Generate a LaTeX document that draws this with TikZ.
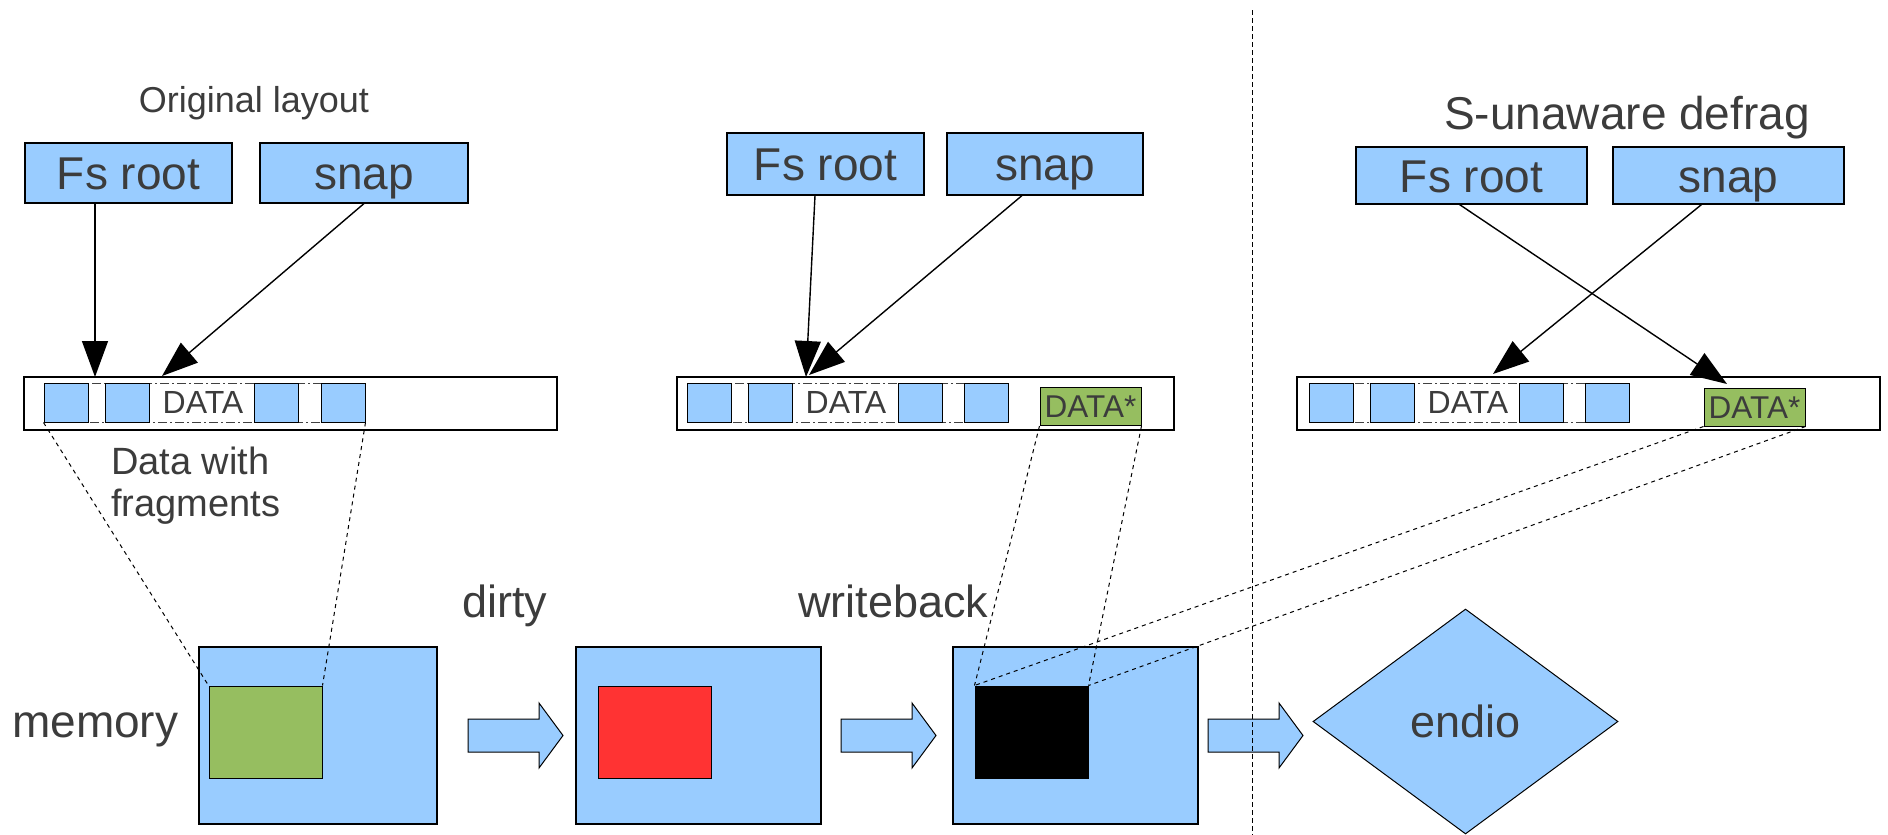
\documentclass[tikz,border=0pt]{standalone}
\usepackage{fontspec}
\setmainfont{Liberation Sans}
\usetikzlibrary{arrows.meta,shapes.geometric}
\definecolor{boxblue}{HTML}{99CCFF}
\definecolor{datagreen}{HTML}{96BE60}
\definecolor{memred}{HTML}{FF3333}
\definecolor{txt}{HTML}{3C3C3C}
\tikzset{
  lbl/.style={inner sep=0, text=txt},
  bigbox/.style={draw=black, line width=1.1pt, fill=boxblue, inner sep=0, text=txt, font=\fontsize{46}{55}\selectfont, text height=33pt, text depth=0pt},
  strip/.style={draw=black, line width=1.1pt, fill=white, inner sep=0},
  frag/.style={draw=black, line width=1pt, fill=boxblue, inner sep=0, minimum width=44pt, minimum height=39pt},
  newdata/.style={draw=black, line width=1pt, fill=datagreen, inner sep=0, text=txt, font=\fontsize{31.5}{38}\selectfont, minimum width=101pt, minimum height=38pt, text height=22.5pt, text depth=0pt},
  band/.style={draw=black!75, line width=1pt, dash pattern=on 9pt off 3pt on 2pt off 3pt},
  ptr/.style={line width=1.4pt, -{Triangle[length=36pt,width=26pt]}},
  mapline/.style={line width=1pt, dash pattern=on 4pt off 4pt},
  divider/.style={line width=1pt, dash pattern=on 5pt off 3pt},
  blockarrow/.style={draw=black, line width=1pt, fill=boxblue, line join=miter},
  memblock/.style={draw=black, line width=1.1pt, fill=boxblue, inner sep=0, minimum height=177pt},
  inner/.style={draw=black, line width=1pt, inner sep=0, minimum width=113pt, minimum height=92pt},
  datalbl/.style={inner sep=0, text=txt, font=\fontsize{32}{38}\selectfont, text height=23pt, text depth=0pt}
}
\begin{document}
\begin{tikzpicture}[x=1pt,y=-1pt]
\useasboundingbox (0,0) rectangle (1888,835);

% headings
\node[lbl, anchor=base, font=\fontsize{36}{43}\selectfont] (h1) at (254,112) {Original layout};
\node[lbl, anchor=base, font=\fontsize{46}{55}\selectfont] (h3) at (1627,129) {S-unaware defrag};

% pointer boxes
\node[bigbox, minimum width=207pt, minimum height=60pt] (fsA) at (128.5,173) {Fs root};
\node[bigbox, minimum width=208pt, minimum height=60pt] (snapA) at (364,173) {snap};
\node[bigbox, minimum width=197pt, minimum height=62pt] (fsB) at (825.5,164) {Fs root};
\node[bigbox, minimum width=196pt, minimum height=62pt] (snapB) at (1045,164) {snap};
\node[bigbox, minimum width=231pt, minimum height=57pt] (fsC) at (1471.5,175.5) {Fs root};
\node[bigbox, minimum width=231pt, minimum height=57pt] (snapC) at (1728.5,175.5) {snap};

% strips
\node[strip, minimum width=533pt, minimum height=53pt] (s1) at (290.5,403.5) {};
\node[strip, minimum width=497pt, minimum height=53pt] (s2) at (925.5,403.5) {};
\node[strip, minimum width=583pt, minimum height=53pt] (s3) at (1588.5,403.5) {};

% strip 1
\draw[band] (44,383) rectangle (365,422);
\node[frag] (a1) at (66,402.5) {};
\node[frag] (a2) at (127,402.5) {};
\node[frag] (a3) at (276.5,402.5) {};
\node[frag] (a4) at (343,402.5) {};
\node[datalbl] (d1) at (203,402) {DATA};

% strip 2
\draw[band] (687,383) rectangle (1008,422);
\node[frag] (b1) at (709.5,402.5) {};
\node[frag] (b2) at (770,402.5) {};
\node[frag] (b3) at (920,402.5) {};
\node[frag] (b4) at (986,402.5) {};
\node[datalbl] (d2) at (846,402) {DATA};
\node[newdata] (n2) at (1090.5,406.5) {DATA*};

% strip 3
\draw[band] (1309,383) rectangle (1629,422);
\node[frag] (c1) at (1331,402.5) {};
\node[frag] (c2) at (1392,402.5) {};
\node[frag] (c3) at (1541.5,402.5) {};
\node[frag] (c4) at (1607.5,402.5) {};
\node[datalbl] (d3) at (1468,402) {DATA};
\node[newdata] (n3) at (1754.5,407) {DATA*};

% pointers
\coordinate (t1) at (95,377);
\coordinate (t2) at (162,376);
\coordinate (t3) at (806,377);
\coordinate (t4) at (809,375);
\coordinate (t5) at (1727,384);
\coordinate (t6) at (1493,374);
\draw[ptr] (fsA.south -| t1) -- (t1);
\draw[ptr] (snapA.south) -- (t2);
\draw[ptr] ([xshift=-10.5pt]fsB.south) -- (t3);
\draw[ptr] ([xshift=-23pt]snapB.south) -- (t4);
\draw[ptr] ([xshift=-12pt]fsC.south) -- (t5);
\draw[ptr] ([xshift=-27pt]snapC.south) -- (t6);

% labels
\node[lbl, anchor=base west, font=\fontsize{38}{45}\selectfont] (dw1) at (111,474) {Data with};
\node[lbl, anchor=base west, font=\fontsize{38}{45}\selectfont] (dw2) at (111,516) {fragments};
\node[lbl, anchor=base west, font=\fontsize{46}{55}\selectfont] (lmem) at (12,737) {memory};
\node[lbl, anchor=base west, font=\fontsize{45}{54}\selectfont] (ldirty) at (462,617) {dirty};
\node[lbl, anchor=base west, font=\fontsize{45}{54}\selectfont] (lwb) at (798,617) {writeback};

% memory blocks
\node[memblock, minimum width=238pt] (m1) at (318,735.5) {};
\node[memblock, minimum width=245pt] (m2) at (698.5,735.5) {};
\node[memblock, minimum width=245pt] (m3) at (1075.5,735.5) {};
\node[inner, fill=datagreen] (g1) at (265.5,732) {};
\node[inner, fill=memred] (r2) at (654.5,732) {};
\node[inner, fill=black] (k3) at (1031.5,732) {};

% block arrows
\foreach \dx in {0,373,740}{
  \draw[blockarrow, xshift=\dx pt] (468,719) -- (539,719) -- (539,703) -- (563,735.5) -- (539,768) -- (539,752) -- (468,752) -- cycle;
}

% endio
\node[diamond, draw=black, line width=1pt, fill=boxblue, inner sep=0, minimum width=305pt, minimum height=225pt, text=txt, font=\fontsize{45}{54}\selectfont] (endio) at (1465.5,721.5) {endio};

% mapping lines
\draw[mapline] (a1.south west) -- (g1.north west);
\draw[mapline] (a4.south east) -- (g1.north east);
\draw[mapline] (n2.south west) -- (k3.north west);
\draw[mapline] (n2.south east) -- (k3.north east);
\draw[mapline] (n3.south west) -- (k3.north west);
\draw[mapline] (n3.south east) -- (k3.north east);

% divider
\coordinate (dtop) at (1252,10);
\coordinate (dbot) at (1252,835);
\draw[divider] (dtop) -- (dbot);
\end{tikzpicture}
\end{document}
